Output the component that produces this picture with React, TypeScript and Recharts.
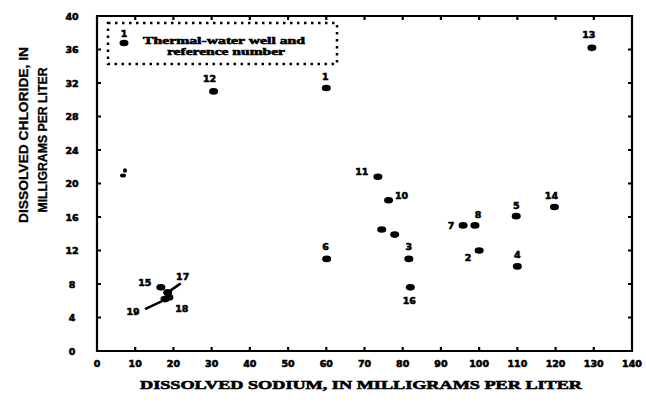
import { Scatter, ScatterChart, XAxis, YAxis } from "recharts";

// dissolved sodium vs dissolved chloride, thermal-water wells
const wellNumbers = ["1", "12", "13", "11", "10", "9", "", "3", "16", "6", "7", "8", "2", "5", "4", "14", "15", "17", "18", "19"];
const sodium = [60, 30.5, 129.5, 73.5, 76.3, 74.5, 77.9, 81.6, 82, 60.1, 95.8, 98.9, 100, 109.7, 110, 119.7, 16.7, 18.5, 18.8, 17.8];
const chloride = [31.4, 31, 36.2, 20.8, 18, 14.5, 13.9, 11, 7.6, 11, 15, 15, 12, 16.1, 10.1, 17.2, 7.6, 7, 6.4, 6.2];

// faint, half-printed mark near the y axis
const faintSodium = [6.8];
const faintChloride = [21.2];

const xTicks = [0, 10, 20, 30, 40, 50, 60, 70, 80, 90, 100, 110, 120, 130, 140];
const yTicks = [0, 4, 8, 12, 16, 20, 24, 28, 32, 36, 40];

const wells = wellNumbers.map((well, i) => ({ well, sodium: sodium[i], chloride: chloride[i] }));
const faint = faintSodium.map((s, i) => ({ well: "", sodium: s, chloride: faintChloride[i] }));

// where each number sits relative to its dot
const labelPlace: Record<string, { dx: number; dy: number; leader?: [number, number, number, number] }> = {
  "1": { dx: -1, dy: -12 },
  "12": { dx: -4, dy: -13 },
  "13": { dx: -3, dy: -13 },
  "11": { dx: -16, dy: -5 },
  "10": { dx: 13, dy: -5 },
  "3": { dx: 0, dy: -12 },
  "16": { dx: -1, dy: 13 },
  "6": { dx: -1, dy: -12 },
  "7": { dx: -12, dy: 0 },
  "8": { dx: 3, dy: -11 },
  "2": { dx: -11, dy: 7 },
  "5": { dx: 0, dy: -11 },
  "4": { dx: 0, dy: -12 },
  "14": { dx: -3, dy: -11 },
  "15": { dx: -16, dy: -5 },
  "17": { dx: 15, dy: -16, leader: [3, -2, 13, -9] },
  "18": { dx: 13, dy: 11 },
  "19": { dx: -32, dy: 12, leader: [-3, 2, -20, 10] },
};

const W = 646;
const H = 412;
const margin = { top: 16, right: 14, bottom: 31, left: 57 };
const xAxisH = 30;
const yAxisW = 40;
const xMax = 140;
const yMax = 40;
const plotL = margin.left + yAxisW;
const plotT = margin.top;
const plotW = W - plotL - margin.right;
const plotH = H - margin.top - margin.bottom - xAxisH;
const plotR = plotL + plotW;
const plotB = plotT + plotH;
// same linear mapping the chart uses, for the frame and its inward ticks
const sx = (v: number) => plotL + (v / xMax) * plotW;
const sy = (v: number) => plotB - (v / yMax) * plotH;

const numFont = {
  fontFamily: "DejaVu Sans",
  fontWeight: 700,
  fontSize: 9.5,
  fill: "#000",
  stroke: "#000",
  strokeWidth: 0.6,
};

const WellDot = (props: any) => {
  const { cx, cy, payload } = props;
  const place = labelPlace[payload.well];
  return (
    <g>
      <ellipse cx={cx} cy={cy} rx={4.5} ry={3.3} fill="#000" />
      {place && place.leader && (
        <line
          x1={cx + place.leader[0]}
          y1={cy + place.leader[1]}
          x2={cx + place.leader[2]}
          y2={cy + place.leader[3]}
          stroke="#000"
          strokeWidth={2.5}
        />
      )}
      {place && (
        <text x={cx + place.dx} y={cy + place.dy} textAnchor="middle" dominantBaseline="central" {...numFont}>
          {payload.well}
        </text>
      )}
    </g>
  );
};

const FaintDot = (props: any) => {
  const { cx, cy } = props;
  return (
    <g>
      <ellipse cx={cx} cy={cy + 2} rx={3} ry={2} fill="#000" />
      <ellipse cx={cx + 2} cy={cy - 3} rx={2} ry={2.2} fill="#000" />
    </g>
  );
};

const BottomTick = ({ x, y, payload }: any) => (
  <text x={x} y={y + 12} textAnchor="middle" dominantBaseline="central" {...numFont}>
    {payload.value}
  </text>
);

const LeftTick = ({ x, y, payload }: any) => (
  <text x={x - 25} y={y} textAnchor="middle" dominantBaseline="central" {...numFont}>
    {payload.value}
  </text>
);

// frame outline plus inward ticks on all four sides, as one path
const framePath = [
  `M${plotL},${plotT}H${plotR}V${plotB}H${plotL}Z`,
  ...xTicks.map((t) => `M${sx(t)},${plotB}v-4M${sx(t)},${plotT}v4`),
  ...yTicks.map((t) => `M${plotL},${sy(t)}h4M${plotR},${sy(t)}h-4`),
].join("");

export default function App() {
  return (
    <div style={{ position: "absolute", left: 0, top: 0, width: W, height: H, background: "#fff" }}>
      <ScatterChart width={W} height={H} margin={margin}>
        <XAxis
          type="number"
          dataKey="sodium"
          domain={[0, xMax]}
          ticks={xTicks}
          height={xAxisH}
          tickSize={0}
          tickMargin={0}
          tickLine={false}
          axisLine={false}
          tick={<BottomTick />}
        />
        <YAxis
          type="number"
          dataKey="chloride"
          domain={[0, yMax]}
          ticks={yTicks}
          width={yAxisW}
          tickSize={0}
          tickMargin={0}
          tickLine={false}
          axisLine={false}
          tick={<LeftTick />}
        />
        <Scatter data={faint} shape={<FaintDot />} isAnimationActive={false} />
        <Scatter data={wells} shape={<WellDot />} isAnimationActive={false} />
      </ScatterChart>

      <svg width={W} height={H} style={{ position: "absolute", left: 0, top: 0, pointerEvents: "none" }}>
        <path d={framePath} fill="none" stroke="#000" strokeWidth={2.2} />

        {/* legend */}
        <rect
          x={108}
          y={23}
          width={229}
          height={41}
          fill="none"
          stroke="#000"
          strokeWidth={2.5}
          strokeDasharray="2.5 4.5"
        />
        <text x={124} y={33} textAnchor="middle" dominantBaseline="central" {...numFont}>
          1
        </text>
        <ellipse cx={124} cy={43} rx={4.5} ry={3.3} fill="#000" />
        <g fontFamily="Liberation Serif" fontWeight={700} fontSize={10.5} fill="#000" stroke="#000" strokeWidth={0.6}>
          <text x={224} y={44} textAnchor="middle" textLength={162} lengthAdjust="spacingAndGlyphs">
            Thermal-water well and
          </text>
          <text x={226} y={55} textAnchor="middle" textLength={118} lengthAdjust="spacingAndGlyphs">
            reference number
          </text>
        </g>

        {/* axis titles */}
        <g fontFamily="Liberation Sans" fontWeight={700} fontSize={12} fill="#000" stroke="#000" strokeWidth={0.3}>
          <text x={0} y={0} transform="translate(28,135) rotate(-90)" textAnchor="middle" textLength={176} lengthAdjust="spacingAndGlyphs">
            DISSOLVED CHLORIDE, IN
          </text>
          <text x={0} y={0} transform="translate(47,140) rotate(-90)" textAnchor="middle" textLength={145} lengthAdjust="spacingAndGlyphs">
            MILLIGRAMS PER LITER
          </text>
        </g>
        <text
          x={361}
          y={389}
          textAnchor="middle"
          fontFamily="Liberation Serif"
          fontWeight={700}
          fontSize={13}
          fill="#000"
          stroke="#000"
          strokeWidth={0.6}
          textLength={442}
          lengthAdjust="spacingAndGlyphs"
        >
          DISSOLVED SODIUM,  IN MILLIGRAMS PER LITER
        </text>
      </svg>
    </div>
  );
}
